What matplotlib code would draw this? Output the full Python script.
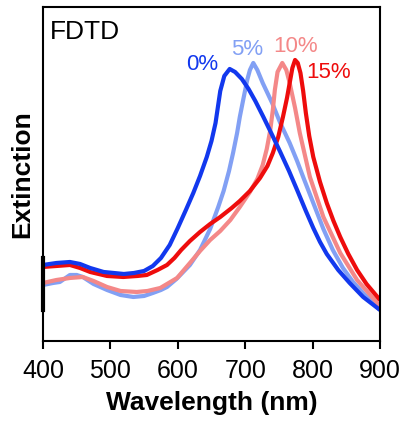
import matplotlib
matplotlib.use("Agg")
import matplotlib.pyplot as plt

plt.rcParams['font.family'] = ['Liberation Sans', 'DejaVu Sans']

# extinction (arbitrary units)
wl_0 = [400, 420, 440, 455, 470, 490, 505, 520, 535, 550, 563, 575, 588, 600, 612, 623,
        633, 643, 650, 656, 663, 669, 677, 685, 695, 705, 715, 727, 740, 752, 765, 777,
        790, 801, 811, 821, 838, 855, 875, 900]
ext_0 = [76, 78, 79, 77, 73, 69, 68, 67, 68, 70, 75, 83, 96, 113, 131, 148,
         165, 184, 200, 218, 250, 265, 272, 269, 262, 252, 240, 224, 206, 189, 170, 151,
         130, 113, 99, 87, 71, 58, 44, 31]

wl_5 = [400, 415, 425, 440, 450, 459, 475, 495, 515, 534, 550, 563, 575, 584, 598, 618,
        633, 648, 660, 668, 676, 682, 688, 692, 697, 703, 707, 712, 718, 726, 740, 752,
        766, 777, 786, 801, 816, 830, 845, 860, 875, 900]
ext_5 = [56, 58, 59, 66, 66, 64, 57, 51, 46, 44, 45, 48, 51, 54, 62, 76,
         91, 112, 134, 150, 170, 188, 208, 224, 241, 261, 271, 278, 271, 258, 238, 218,
         198, 180, 164, 138, 112, 91, 73, 59, 48, 31]

wl_10 = [400, 420, 440, 459, 475, 495, 515, 539, 555, 574, 599, 618, 633, 648, 663, 678,
         692, 707, 718, 726, 732, 737, 741, 744, 748, 755, 761, 766, 774, 781, 796, 816,
         841, 866, 900]
ext_10 = [58, 61, 63, 64, 60, 54, 50, 49, 50, 53, 63, 78, 90, 101, 110, 121,
          134, 149, 162, 176, 192, 210, 231, 251, 269, 278, 271, 258, 233, 208, 164, 124,
          88, 61, 35]

wl_15 = [400, 420, 440, 455, 470, 495, 519, 540, 554, 570, 584, 595, 605, 618, 633, 648,
         663, 680, 692, 707, 722, 733, 741, 749, 756, 762, 766, 770, 774, 778, 782, 786,
         790, 795, 801, 811, 821, 831, 841, 853, 866, 880, 900]
ext_15 = [74, 75, 76, 73, 69, 65, 64, 65, 66, 71, 76, 83, 91, 100, 109, 117,
          124, 133, 140, 150, 163, 175, 188, 204, 224, 243, 258, 273, 281, 278, 268, 250,
          228, 205, 184, 159, 138, 120, 104, 87, 71, 57, 41]

labels = ['0%', '5%', '10%', '15%']
colors = ['#1238ee', '#82a0f4', '#f48888', '#ee0c0c']
label_x = [636, 703, 775, 824]
label_y = [276, 291, 294, 268]

fig = plt.figure(figsize=(4.04, 4.23), dpi=100)
ax = fig.add_axes([0.1064, 0.1939, 0.8342, 0.7896])

series = [(wl_5, ext_5, colors[1]), (wl_10, ext_10, colors[2]),
          (wl_15, ext_15, colors[3]), (wl_0, ext_0, colors[0])]
for x, y, c in series:
    ax.plot(x, y, color=c, lw=3, solid_joinstyle='round', solid_capstyle='butt')

ax.set_xlim(400, 900)
ax.set_ylim(0, 334)
ax.set_yticks([])
ax.set_xticks([400, 500, 600, 700, 800, 900])
ax.tick_params(axis='x', direction='out', length=6, width=1.5, labelsize=18, pad=7)
for s in ax.spines.values():
    s.set_linewidth(1.5)

# thicker piece of the left spine, as in the original
ax.axvline(400, ymin=0.093, ymax=0.249, color='black', lw=3, clip_on=False)

ax.set_xlabel('Wavelength (nm)', fontsize=19, fontweight='bold', labelpad=6)
ax.set_ylabel('Extinction', fontsize=19, fontweight='bold', labelpad=6)

ax.text(0.02, 0.925, 'FDTD', transform=ax.transAxes, fontsize=19, va='center', ha='left')
for t, x, y, c in zip(labels, label_x, label_y, colors):
    ax.text(x, y, t, color=c, fontsize=16, ha='center', va='center')

fig.savefig('out.png', dpi=100)
